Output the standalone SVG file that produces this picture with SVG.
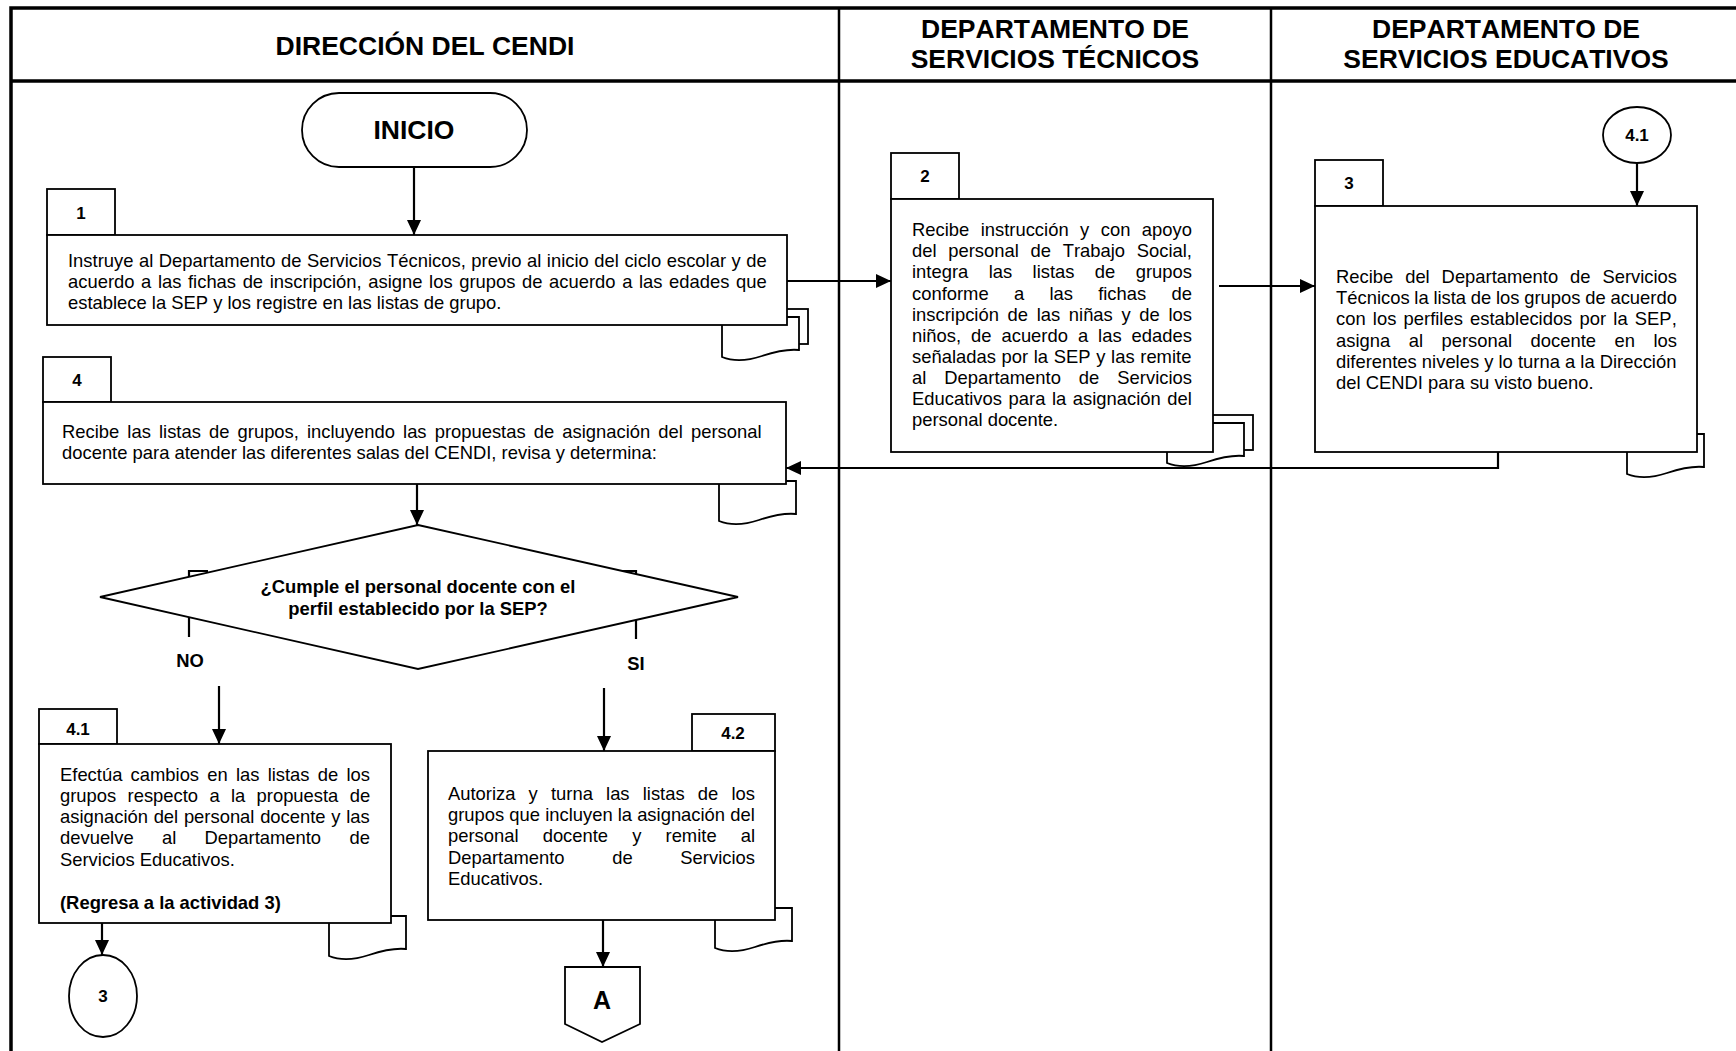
<svg xmlns="http://www.w3.org/2000/svg" xmlns:xlink="http://www.w3.org/1999/xlink" width="1736" height="1051" viewBox="0 0 1736 1051">
  <style>
    .frame { stroke: #000; stroke-width: 3.5; fill: none; }
    .lane { stroke: #000; stroke-width: 2.5; fill: none; }
    .box { fill: #fff; stroke: #000; stroke-width: 1.8; }
    .doc { fill: #fff; stroke: #000; stroke-width: 1.8; }
    .conn { fill: none; stroke: #000; stroke-width: 2.2; }
    .arrow { marker-end: url(#ah); }
    text { font-family: "Liberation Sans", Arial, sans-serif; fill: #000; font-kerning: none; }
    .hdr { font-size: 26.5px; font-weight: bold; text-anchor: middle; }
    .t { font-size: 18.4px; }
    .b { font-size: 18.4px; font-weight: bold; }
    .num { font-size: 17px; font-weight: bold; text-anchor: middle; }
    .c { text-anchor: middle; }
  </style>
  <defs>
    <marker id="ah" viewBox="0 0 15 14" markerWidth="15" markerHeight="14" refX="15" refY="7" orient="auto" markerUnits="userSpaceOnUse">
      <path d="M0,0 L15,7 L0,14 z" fill="#000"/>
    </marker>
    <!-- single document page with wavy bottom, origin at top-left -->
    <path id="page" class="doc" d="M0,0 H77 V33 C67,32 55,34 40,39 C25,44 10,44 0,40 Z"/>
    <!-- stacked documents: back page offset up/right -->
    <g id="pages">
      <rect class="doc" x="9" y="-8" width="77" height="35"/>
      <use xlink:href="#page"/>
    </g>
  </defs>

  <rect width="1736" height="1051" fill="#fff"/>

  <!-- swimlane frame -->
  <g id="lanes">
    <path class="frame" d="M11,1051 V8 H1736"/>
    <path class="frame" d="M11,81 H1736"/>
    <path class="lane" d="M839,8 V1051"/>
    <path class="lane" d="M1271,8 V1051"/>
    <text class="hdr" x="425" y="55">DIRECCIÓN DEL CENDI</text>
    <text class="hdr" x="1055" y="38">DEPARTAMENTO DE</text>
    <text class="hdr" x="1055" y="68">SERVICIOS TÉCNICOS</text>
    <text class="hdr" x="1506" y="38">DEPARTAMENTO DE</text>
    <text class="hdr" x="1506" y="68">SERVICIOS EDUCATIVOS</text>
  </g>

  <!-- connectors -->
  <g id="connectors">
    <path class="conn arrow" d="M414,167 V235"/>
    <path class="conn arrow" d="M787,281 H891"/>
    <path class="conn arrow" d="M1219,286 H1315"/>
    <path class="conn arrow" d="M1637,163 V206"/>
    <path class="conn arrow" d="M1498,452 V468 H786"/>
    <path class="conn arrow" d="M417,484 V525"/>
    <path class="conn" d="M208,571 H189 V637"/>
    <path class="conn" d="M620,571 H636 V639"/>
    <path class="conn arrow" d="M219,686 V744"/>
    <path class="conn arrow" d="M604,688 V751"/>
    <path class="conn arrow" d="M102,923 V955"/>
    <path class="conn arrow" d="M603,920 V967"/>
  </g>

  <!-- start terminator -->
  <g id="inicio">
    <rect class="box" x="302" y="93" width="225" height="74" rx="37" ry="37"/>
    <text class="hdr" x="414" y="139">INICIO</text>
  </g>

  <!-- activity 1 -->
  <g id="act1">
    <use xlink:href="#pages" x="722" y="317"/>
    <rect class="box" x="47" y="189" width="68" height="46"/>
    <text class="num" x="81" y="219">1</text>
    <rect class="box" x="47" y="235" width="740" height="90"/>
    <text class="t" x="68" y="267" word-spacing="0.44">Instruye al Departamento de Servicios Técnicos, previo al inicio del ciclo escolar y de</text>
    <text class="t" x="68" y="288" word-spacing="1.49">acuerdo a las fichas de inscripción, asigne los grupos de acuerdo a las edades que</text>
    <text class="t" x="68" y="309">establece la SEP y los registre en las listas de grupo.</text>
  </g>

  <!-- activity 2 -->
  <g id="act2">
    <use xlink:href="#pages" x="1167" y="423"/>
    <rect class="box" x="891" y="153" width="68" height="46"/>
    <text class="num" x="925" y="182">2</text>
    <rect class="box" x="891" y="199" width="322" height="253"/>
    <text class="t" x="912" y="236" word-spacing="6.35">Recibe instrucción y con apoyo</text>
    <text class="t" x="912" y="257.2" word-spacing="6.6">del personal de Trabajo Social,</text>
    <text class="t" x="912" y="278.3" word-spacing="15.3">integra las listas de grupos</text>
    <text class="t" x="912" y="299.5" word-spacing="20.15">conforme a las fichas de</text>
    <text class="t" x="912" y="320.6" word-spacing="3.55">inscripción de las niñas y de los</text>
    <text class="t" x="912" y="341.8" word-spacing="4.86">niños, de acuerdo a las edades</text>
    <text class="t" x="912" y="362.9" word-spacing="0.56">señaladas por la SEP y las remite</text>
    <text class="t" x="912" y="384.1" word-spacing="12.9">al Departamento de Servicios</text>
    <text class="t" x="912" y="405.2" word-spacing="1.48">Educativos para la asignación del</text>
    <text class="t" x="912" y="426.4">personal docente.</text>
  </g>

  <!-- connector 4.1 (incoming) -->
  <g id="ref41">
    <ellipse class="box" cx="1637" cy="135" rx="34" ry="28"/>
    <text class="num" x="1637" y="141">4.1</text>
  </g>

  <!-- activity 3 -->
  <g id="act3">
    <use xlink:href="#page" x="1627" y="434"/>
    <rect class="box" x="1315" y="160" width="68" height="46"/>
    <text class="num" x="1349" y="189">3</text>
    <rect class="box" x="1315" y="206" width="382" height="246"/>
    <text class="t" x="1336" y="283" word-spacing="6.8">Recibe del Departamento de Servicios</text>
    <text class="t" x="1336" y="304.2" word-spacing="-0.37">Técnicos la lista de los grupos de acuerdo</text>
    <text class="t" x="1336" y="325.3" word-spacing="2.1">con los perfiles establecidos por la SEP,</text>
    <text class="t" x="1336" y="346.5" word-spacing="13.4">asigna al personal docente en los</text>
    <text class="t" x="1336" y="367.6">diferentes niveles y lo turna a la Dirección</text>
    <text class="t" x="1336" y="388.8">del CENDI para su visto bueno.</text>
  </g>

  <!-- activity 4 -->
  <g id="act4">
    <use xlink:href="#page" x="719" y="481"/>
    <rect class="box" x="43" y="357" width="68" height="45"/>
    <text class="num" x="77" y="386">4</text>
    <rect class="box" x="43" y="402" width="743" height="82"/>
    <text class="t" x="62" y="438" word-spacing="3.0">Recibe las listas de grupos, incluyendo las propuestas de asignación del personal</text>
    <text class="t" x="62" y="459">docente para atender las diferentes salas del CENDI, revisa y determina:</text>
  </g>

  <!-- decision -->
  <g id="decision">
    <polygon class="box" points="418,525 738,597 418,669 100,597"/>
    <text class="b c" x="418" y="593">¿Cumple el personal docente con el</text>
    <text class="b c" x="418" y="615">perfil establecido por la SEP?</text>
    <text class="b c" x="190" y="667">NO</text>
    <text class="b c" x="636" y="670">SI</text>
  </g>

  <!-- activity 4.1 -->
  <g id="act41">
    <use xlink:href="#page" x="329" y="916"/>
    <rect class="box" x="39" y="709" width="78" height="35"/>
    <text class="num" x="78" y="735">4.1</text>
    <rect class="box" x="39" y="744" width="352" height="179"/>
    <text class="t" x="60" y="781" word-spacing="3.1">Efectúa cambios en las listas de los</text>
    <text class="t" x="60" y="802" word-spacing="6.2">grupos respecto a la propuesta de</text>
    <text class="t" x="60" y="823" word-spacing="0.6">asignación del personal docente y las</text>
    <text class="t" x="60" y="844" word-spacing="23.2">devuelve al Departamento de</text>
    <text class="t" x="60" y="866">Servicios Educativos.</text>
    <text class="b" x="60" y="909">(Regresa a la actividad 3)</text>
  </g>

  <!-- activity 4.2 -->
  <g id="act42">
    <use xlink:href="#page" x="715" y="908"/>
    <rect class="box" x="692" y="714" width="83" height="37"/>
    <text class="num" x="733" y="739">4.2</text>
    <rect class="box" x="428" y="751" width="347" height="169"/>
    <text class="t" x="448" y="800" word-spacing="8.05">Autoriza y turna las listas de los</text>
    <text class="t" x="448" y="821">grupos que incluyen la asignación del</text>
    <text class="t" x="448" y="842" word-spacing="19">personal docente y remite al</text>
    <text class="t" x="448" y="864" word-spacing="42.55">Departamento de Servicios</text>
    <text class="t" x="448" y="885">Educativos.</text>
  </g>

  <!-- connector 3 (outgoing) -->
  <g id="ref3">
    <ellipse class="box" cx="103" cy="996" rx="34" ry="41"/>
    <text class="num" x="103" y="1002">3</text>
  </g>

  <!-- off-page connector A -->
  <g id="offpageA">
    <polygon class="box" points="565,967 640,967 640,1024 602,1042 565,1024"/>
    <text class="hdr" x="602" y="1009" style="font-size:25px">A</text>
  </g>
</svg>
